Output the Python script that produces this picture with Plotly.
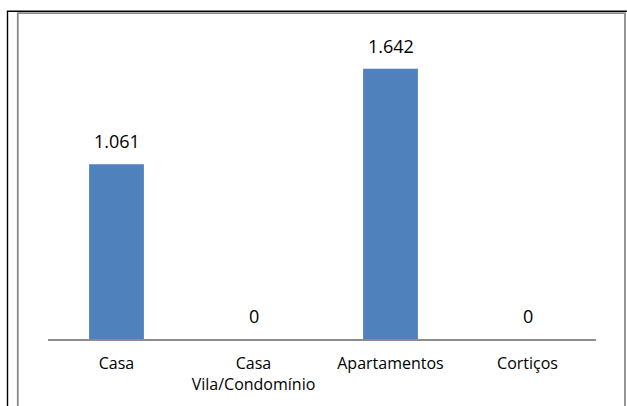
import plotly.graph_objects as go

categories = ["Casa", "Casa<br>Vila/Condomínio", "Apartamentos", "Cortiços"]
values = [1061, 0, 1642, 0]
bar_color = "#4F81BD"
font_family = "Open Sans, Noto Sans, Liberation Sans, sans-serif"

W, H = 627, 406
L, R, T, B = 48, 31, 30, 67
pw, ph = W - L - R, H - T - B


def px_x(px):
    return (px - L) / pw


def px_y(py):
    return (H - B - py) / ph


fig = go.Figure()
fig.add_trace(go.Bar(
    x=categories, y=values, marker=dict(color=bar_color, line=dict(width=0)),
    hoverinfo="skip",
))

for c, v in zip(categories, values):
    fig.add_annotation(
        x=c, y=v, xref="x", yref="y", text=f"{v:,}".replace(",", "."),
        showarrow=False, yanchor="bottom", yshift=9,
        font=dict(family=font_family, size=18, color="#000000"),
    )

shapes = [
    # outer black frame (left + top)
    dict(type="path", xref="paper", yref="paper",
         path=f"M {px_x(7.5)},{px_y(410)} L {px_x(7.5)},{px_y(11.3)} L {px_x(630)},{px_y(11.3)}",
         line=dict(color="#000000", width=1.4)),
    # inner gray chart-area border
    dict(type="rect", xref="paper", yref="paper",
         x0=px_x(17.8), x1=px_x(625), y0=px_y(412), y1=px_y(13.1),
         line=dict(color="#8C8C8C", width=1.8)),
]

fig.update_layout(
    width=W, height=H,
    margin=dict(l=L, r=R, t=T, b=B),
    paper_bgcolor="#FFFFFF", plot_bgcolor="#FFFFFF",
    bargap=0.6,
    showlegend=False,
    separators=",.",
    font=dict(family=font_family, size=16, color="#000000"),
    shapes=shapes,
    xaxis=dict(showline=True, linecolor="#8C8C8C", linewidth=1.6, ticks="",
               showgrid=False, zeroline=False, fixedrange=True,
               ticklabelstandoff=9,
               tickfont=dict(family=font_family, size=16, color="#000000")),
    yaxis=dict(range=[0, 1877], visible=False, showgrid=False, zeroline=False,
               fixedrange=True),
)

fig.write_html(
    "out.html",
    config={"displayModeBar": False},
    post_script="document.body.style.margin='0';document.body.style.overflow='hidden';",
)
